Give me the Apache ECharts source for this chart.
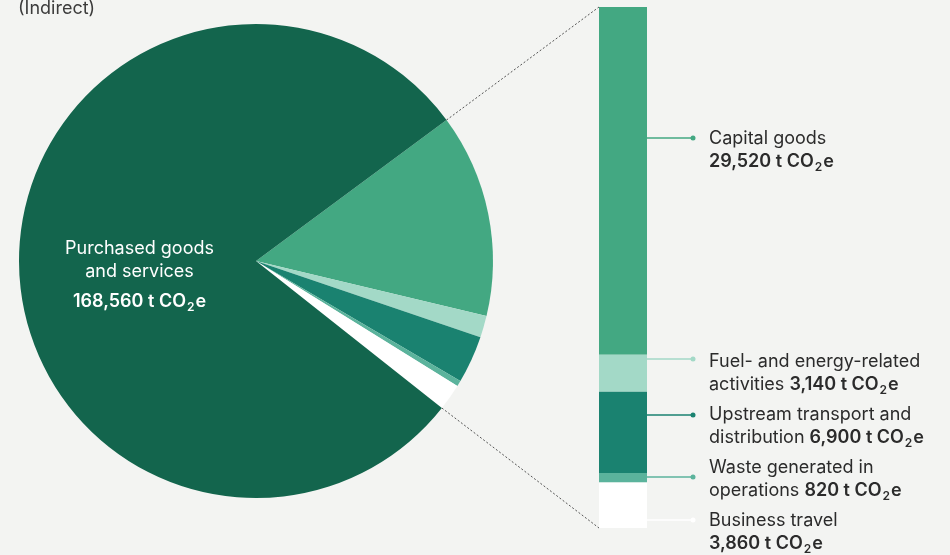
<!DOCTYPE html>
<html>
<head>
<meta charset="utf-8">
<script src="https://cdn.jsdelivr.net/npm/echarts@6/dist/echarts.min.js"></script>
<style>
  html, body { margin: 0; padding: 0; background: #f3f4f2; }
  #chart { width: 950px; height: 555px; }
</style>
</head>
<body>
<div id="chart"></div>
<script>
// data (t CO2e)
const mainName = "Purchased goods and services";
const mainValue = 168560;
const otherNames = [
  "Capital goods",
  "Fuel- and energy-related activities",
  "Upstream transport and distribution",
  "Waste generated in operations",
  "Business travel"
];
const otherValues = [29520, 3140, 6900, 820, 3860];
// how the label text wraps: first line, text before value on second line
const labelFirst = ["Capital goods", "Fuel- and energy-related", "Upstream transport and", "Waste generated in", "Business travel"];
const labelSecond = ["", "activities ", "distribution ", "operations ", ""];

// look
const mainColor = "#13654d";
const otherColors = ["#43a882", "#a3d9c7", "#1a8270", "#5bb39c", "#ffffff"];
const leaderY = [138, 359, 415, 477, 520];   // y of leader line per label
const textTopY = [127, 350, 403, 456, 509];  // top of label text block
const pieCenter = [256, 261];
const pieRadius = 237;
const startAngle = 36.5;
const bar = { left: 599, top: 7, width: 48, height: 521 };

const fmt = v => v.toLocaleString("en-US");
const otherSum = otherValues.reduce((a, b) => a + b, 0);
const total = otherSum + mainValue;

const makeRich = color => ({
  n: { fontSize: 18, lineHeight: 23, color: color, fontFamily: "Inter" },
  b: { fontSize: 18, lineHeight: 23, color: color, fontWeight: 600, fontFamily: "Inter" },
  s: { fontSize: 12, lineHeight: 5, color: color, fontWeight: 600, fontFamily: "Inter", verticalAlign: "bottom", padding: [0, 1, 0, 1] },
  g: { lineHeight: 7, fontSize: 1 }
});

const chart = echarts.init(document.getElementById("chart"));

// dotted connectors from pie edge to bar corners
const sweep = 360 * otherSum / total;
const edge = a => [
  pieCenter[0] + pieRadius * Math.cos(a * Math.PI / 180),
  pieCenter[1] - pieRadius * Math.sin(a * Math.PI / 180)
];
const pUp = edge(startAngle);
const pDown = edge(startAngle - sweep);
const graphics = [
  {
    type: "line", silent: true,
    shape: { x1: pUp[0], y1: pUp[1], x2: bar.left, y2: bar.top },
    style: { stroke: "#555", lineWidth: 1, lineDash: [2, 2] }
  },
  {
    type: "line", silent: true,
    shape: { x1: pDown[0], y1: pDown[1], x2: bar.left, y2: bar.top + bar.height },
    style: { stroke: "#555", lineWidth: 1, lineDash: [2, 2] }
  },
  {
    type: "text", left: 18, top: 0,
    style: { text: "(Indirect)", fontSize: 18, fill: "#3c3c3c", fontFamily: "Inter" }
  }
];
otherNames.forEach((n, i) => {
  graphics.push({
    type: "line", silent: true,
    shape: { x1: bar.left + bar.width, y1: leaderY[i], x2: 693, y2: leaderY[i] },
    style: { stroke: otherColors[i], lineWidth: 1.5 }
  });
  graphics.push({
    type: "circle", silent: true,
    shape: { cx: 693, cy: leaderY[i], r: 2.5 },
    style: { fill: otherColors[i] }
  });
});

const pieData = otherNames.map((n, i) => ({
  name: n, value: otherValues[i], itemStyle: { color: otherColors[i] }, label: { show: false }
}));
pieData.push({
  name: mainName, value: mainValue, itemStyle: { color: mainColor },
  label: {
    show: true,
    position: "inside",
    offset: [5, 16],
    formatter: "{n|Purchased goods}\n{n|and services}\n{g|}\n{b|" + fmt(mainValue) + " t CO}{s|2}{b|e}",
    rich: makeRich("#ffffff")
  }
});

const barSeries = otherNames.map((n, i) => ({
  type: "bar",
  name: n,
  stack: "other",
  barWidth: bar.width,
  silent: true,
  data: [otherValues[i]],
  itemStyle: { color: otherColors[i] },
  label: {
    show: true,
    position: "right",
    formatter: "{n|" + labelFirst[i] + "}\n" +
      (labelSecond[i] ? "{n|" + labelSecond[i] + "}" : "") +
      "{b|" + fmt(otherValues[i]) + " t CO}{s|2}{b|e}",
    rich: makeRich("#2b2b2b")
  },
  labelLayout: () => ({ x: 709, y: textTopY[i], align: "left", verticalAlign: "top" })
}));

const option = {
  backgroundColor: "#f3f4f2",
  animation: false,
  grid: { left: bar.left, top: bar.top, width: bar.width, height: bar.height },
  xAxis: { type: "category", data: ["other"], show: false },
  yAxis: { type: "value", min: 0, max: otherSum, inverse: true, show: false },
  graphic: graphics,
  series: [
    {
      type: "pie",
      center: pieCenter,
      radius: pieRadius,
      startAngle: startAngle,
      clockwise: true,
      silent: true,
      labelLine: { show: false },
      data: pieData
    }
  ].concat(barSeries)
};
chart.setOption(option);
</script>
</body>
</html>
